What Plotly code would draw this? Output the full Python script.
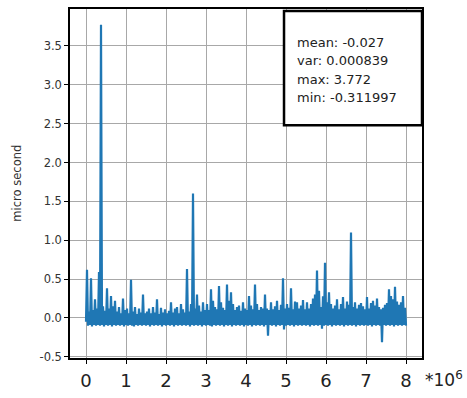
import numpy as np
import plotly.graph_objects as go

# Latency deviation (micro second), one value per 25,000 samples
latency = [
    -0.05, 0.62, -0.10, 0.08, -0.09, 0.51, -0.11, 0.10, -0.09, 0.24, -0.10, 0.12, -0.09, 0.59, -0.10, 3.772, -0.09, 0.15, -0.11, 0.09,
    -0.09, 0.38, -0.10, 0.12, -0.09, 0.28, -0.11, 0.15, -0.09, 0.22, -0.10, 0.08, -0.09, 0.14, -0.10, 0.06, -0.09, 0.25, -0.11, 0.10,
    -0.09, 0.12, -0.10, 0.06, -0.09, 0.49, -0.10, 0.08, -0.11, 0.14, -0.09, 0.05, -0.10, 0.12, -0.09, 0.07, -0.10, 0.30, -0.09, 0.06,
    -0.10, 0.08, -0.09, 0.12, -0.11, 0.06, -0.09, 0.14, -0.10, 0.07, -0.09, 0.24, -0.10, 0.05, -0.09, 0.13, -0.11, 0.07, -0.09, 0.11,
    -0.10, 0.06, -0.09, 0.09, -0.10, 0.20, -0.09, 0.07, -0.11, 0.12, -0.09, 0.14, -0.10, 0.06, -0.09, 0.18, -0.10, 0.11, -0.09, 0.07,
    -0.10, 0.63, -0.09, 0.08, -0.11, 0.18, -0.09, 1.60, -0.10, 0.12, -0.09, 0.30, -0.10, 0.16, -0.09, 0.08, -0.11, 0.20, -0.09, 0.10,
    -0.10, 0.18, -0.09, 0.10, -0.10, 0.37, -0.11, 0.22, -0.09, 0.14, -0.10, 0.11, -0.09, 0.41, -0.10, 0.20, -0.09, 0.13, -0.11, 0.10,
    -0.09, 0.43, -0.10, 0.22, -0.09, 0.33, -0.11, 0.18, -0.09, 0.10, -0.10, 0.14, -0.09, 0.16, -0.10, 0.09, -0.09, 0.20, -0.11, 0.12,
    -0.09, 0.10, -0.10, 0.28, -0.09, 0.16, -0.11, 0.11, -0.09, 0.43, -0.10, 0.18, -0.09, 0.10, -0.10, 0.14, -0.09, 0.12, -0.11, 0.30,
    -0.09, 0.12, -0.23, 0.10, -0.09, 0.20, -0.10, 0.11, -0.09, 0.15, -0.11, 0.22, -0.09, 0.10, -0.10, 0.17, -0.09, 0.51, -0.15, 0.12,
    -0.10, 0.18, -0.09, 0.13, -0.10, 0.38, -0.09, 0.11, -0.11, 0.21, -0.09, 0.20, -0.10, 0.12, -0.09, 0.16, -0.10, 0.23, -0.09, 0.11,
    -0.10, 0.20, -0.09, 0.12, -0.11, 0.18, -0.09, 0.25, -0.10, 0.30, -0.09, 0.61, -0.10, 0.35, -0.09, 0.14, -0.14, 0.28, -0.10, 0.71,
    -0.09, 0.20, -0.10, 0.33, -0.09, 0.18, -0.11, 0.12, -0.09, 0.16, -0.10, 0.24, -0.09, 0.11, -0.10, 0.18, -0.09, 0.27, -0.11, 0.12,
    -0.09, 0.21, -0.10, 0.17, -0.09, 1.10, -0.10, 0.14, -0.09, 0.20, -0.11, 0.12, -0.09, 0.17, -0.10, 0.19, -0.09, 0.15, -0.10, 0.11,
    -0.09, 0.27, -0.10, 0.12, -0.09, 0.19, -0.11, 0.22, -0.09, 0.16, -0.10, 0.25, -0.09, 0.14, -0.10, 0.11, -0.312, 0.13, -0.09, 0.17,
    -0.10, 0.19, -0.09, 0.37, -0.10, 0.28, -0.09, 0.24, -0.11, 0.40, -0.09, 0.21, -0.10, 0.17, -0.09, 0.20, -0.10, 0.28, -0.09, 0.13,
    -0.10,
]
sample_step_millions = 0.025
sample_pos = np.arange(len(latency)) * sample_step_millions

stats_lines = ["mean: -0.027", "var: 0.000839", "max: 3.772", "min: -0.311997"]
x_tick_vals = [0, 1, 2, 3, 4, 5, 6, 7, 8]
y_tick_vals = [-0.5, 0.0, 0.5, 1.0, 1.5, 2.0, 2.5, 3.0, 3.5]

FONT = "DejaVu Sans"

fig = go.Figure()
fig.add_trace(go.Scatter(
    x=sample_pos, y=latency, mode="lines",
    line=dict(color="#1f77b4", width=2.2),
    showlegend=False, hoverinfo="skip",
))

axis_common = dict(
    showline=True, mirror=True, linecolor="black", linewidth=1.5,
    ticks="outside", ticklen=4, tickcolor="black", tickwidth=1,
    showgrid=True, gridcolor="#a8a8a8", gridwidth=1, zeroline=False,
)

fig.update_xaxes(
    range=[-0.4, 8.4], tickvals=x_tick_vals, ticktext=[str(v) for v in x_tick_vals],
    tickfont=dict(family=FONT, size=18, color="#222"), ticklabelstandoff=2, **axis_common,
)
fig.update_yaxes(
    range=[-0.516, 3.976], tickvals=y_tick_vals, ticktext=[f"{v:.1f}" for v in y_tick_vals],
    tickfont=dict(family=FONT, size=11.5, color="#333"), **axis_common,
)

annotations = [
    dict(text="micro second", x=-0.153, y=0.5, xref="paper", yref="paper",
         textangle=-90, showarrow=False, font=dict(family=FONT, size=11.5, color="#333"),
         xanchor="center", yanchor="middle"),
    dict(text="*10<sup>6</sup>", x=1.003, y=-0.06, xref="paper", yref="paper",
         showarrow=False, font=dict(family=FONT, size=17, color="#222"),
         xanchor="left", yanchor="middle"),
]
line_y = [0.9046, 0.8519, 0.7977, 0.7450]
for txt, yy in zip(stats_lines, line_y):
    annotations.append(dict(text=txt, x=0.639, y=yy, xref="paper", yref="paper",
                            showarrow=False, font=dict(family=FONT, size=13, color="#222"),
                            xanchor="left", yanchor="middle"))

fig.update_layout(
    width=467, height=398,
    margin=dict(l=70, r=45, t=7, b=40),
    paper_bgcolor="white", plot_bgcolor="white",
    annotations=annotations,
    shapes=[dict(type="rect", xref="paper", yref="paper",
                 x0=0.608, x1=1.0, y0=0.6667, y1=0.9943,
                 line=dict(color="black", width=2.5), fillcolor="white", layer="above")],
)

fig.write_html(
    "out.html",
    config={"displayModeBar": False},
    post_script="document.body.style.margin='0';document.body.style.overflow='hidden';",
)
